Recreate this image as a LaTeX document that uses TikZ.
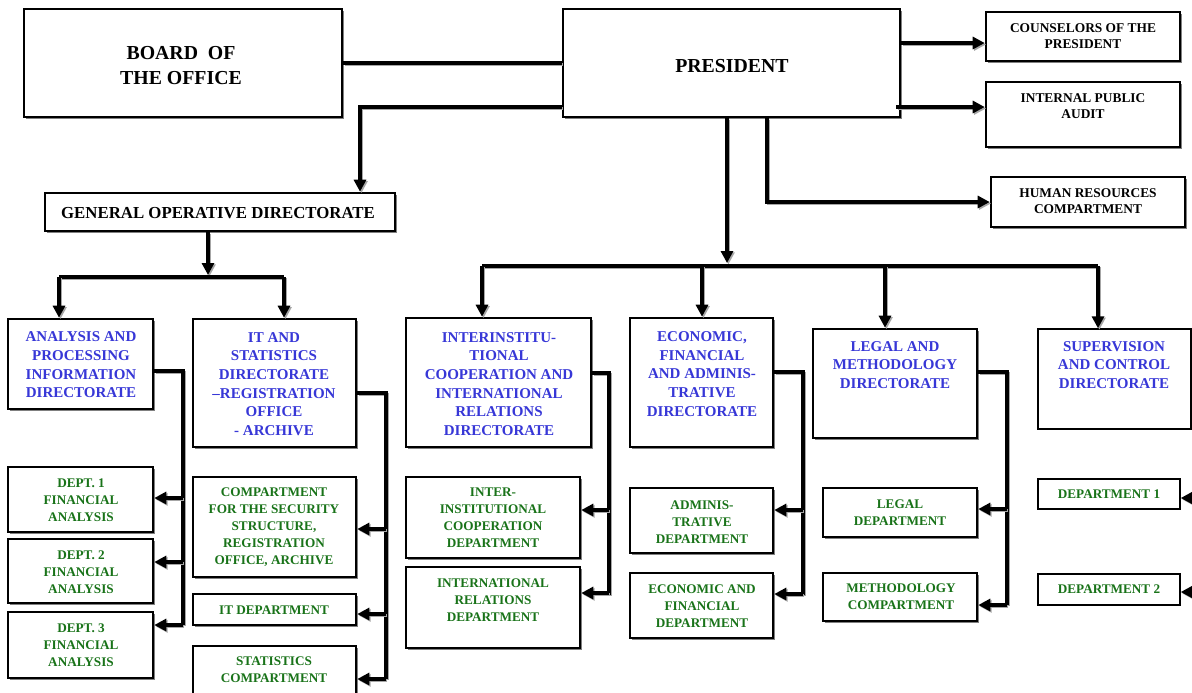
\documentclass[tikz,border=0pt]{standalone}
\usepackage{fontspec}
\setmainfont{Liberation Serif}
\usetikzlibrary{arrows.meta,shadows,calc}
\definecolor{dirblue}{RGB}{55,55,215}
\definecolor{depgreen}{RGB}{25,115,25}
\newcommand\mkbox[6][box]{\node[#1, minimum width={(#5-#3)*0.5pt}, minimum height={(#6-#4)*0.5pt}] (#2) at ({(#3+#5)/2},{(#4+#6)/2}) {};}
\newcommand\wirepath[2]{\draw[wireshadow,#1] #2; \draw[#1] #2;}
\tikzset{
 box/.style={draw, line width=1.3pt, fill=white, inner sep=0pt,
   drop shadow={shadow xshift=1pt, shadow yshift=-1pt, fill=black!50, opacity=1}},
 thinbox/.style={draw, line width=0.7pt, fill=white, inner sep=0pt},
 txt/.style={align=center, inner sep=0pt},
 bigtxt/.style={txt, font=\fontsize{9.9}{12.5}\selectfont\bfseries},
 godtxt/.style={txt, font=\fontsize{8.4}{10}\selectfont\bfseries},
 smalltxt/.style={txt, font=\fontsize{6.7}{8.3}\selectfont\bfseries},
 bluetxt/.style={txt, text=dirblue, font=\fontsize{7.5}{9.35}\selectfont\bfseries},
 greentxt/.style={txt, text=depgreen, font=\fontsize{6.6}{8.5}\selectfont\bfseries},
 wire/.style={line width=1.6pt},
 conn/.style={wire, -{Triangle[length=6pt,width=6pt]}},
 wireshadow/.style={draw=black!35, transform canvas={xshift=0.7pt,yshift=-0.7pt}},
}
\begin{document}
\begin{tikzpicture}[x=0.5pt, y=-0.5pt]
\clip (0,0) rectangle (1192,692);
\fill[white] (0,0) rectangle (1192,692);

% ---- boxes ----
\mkbox{board}{24}{9}{342}{117}
\mkbox{pres}{563}{9}{900}{117}
\mkbox{couns}{986}{12}{1180}{61}
\mkbox{audit}{986}{82}{1180}{147}
\mkbox{hr}{991}{177}{1185}{227}
\mkbox{god}{45}{193}{395}{231}
\mkbox{anal}{8}{319}{153}{409}
\mkbox{itd}{193}{319}{356}{447}
\mkbox{inter}{406}{318}{591}{447}
\mkbox{econ}{630}{318}{773}{447}
\mkbox{legal}{813}{329}{977}{438}
\mkbox[thinbox]{superv}{1038}{329}{1191}{429}
\mkbox{d1}{8}{467}{153}{532}
\mkbox{d2}{8}{539}{153}{603}
\mkbox{d3}{8}{612}{153}{678}
\mkbox{comp}{193}{477}{356}{577}
\mkbox{itdept}{193}{594}{356}{625}
\mkbox{stat}{193}{646}{356}{712}
\mkbox{iid}{406}{477}{580}{558}
\mkbox{ird}{406}{567}{580}{648}
\mkbox{adm}{630}{488}{773}{553}
\mkbox{ef}{630}{573}{773}{638}
\mkbox{ld}{823}{488}{977}{537}
\mkbox{mc}{823}{573}{977}{621}
\mkbox[thinbox]{dep1}{1038}{479}{1180}{509}
\mkbox[thinbox]{dep2}{1038}{574}{1180}{605}

% ---- texts ----
\node[bigtxt] (board-t) at (181,66) {BOARD~~OF\\THE OFFICE};
\node[bigtxt] (pres-t) at (732,66) {PRESIDENT};
\node[smalltxt] (couns-t) at (1083,36) {COUNSELORS OF THE\\PRESIDENT};
\node[smalltxt] (audit-t) at (1083,106) {INTERNAL PUBLIC\\AUDIT};
\node[smalltxt] (hr-t) at (1088,201) {HUMAN RESOURCES\\COMPARTMENT};
\node[godtxt] (god-t) at (218,213) {GENERAL OPERATIVE DIRECTORATE};
\node[bluetxt] (anal-t) at (81,365) {ANALYSIS AND\\PROCESSING\\INFORMATION\\DIRECTORATE};
\node[bluetxt] (itd-t) at (274,384) {IT AND\\STATISTICS\\DIRECTORATE\\--REGISTRATION\\OFFICE\\- ARCHIVE};
\node[bluetxt] (inter-t) at (499,384) {INTERINSTITU-\\TIONAL\\COOPERATION AND\\INTERNATIONAL\\RELATIONS\\DIRECTORATE};
\node[bluetxt] (econ-t) at (702,374) {ECONOMIC,\\FINANCIAL\\AND ADMINIS-\\TRATIVE\\DIRECTORATE};
\node[bluetxt] (legal-t) at (895,365) {LEGAL AND\\METHODOLOGY\\DIRECTORATE};
\node[bluetxt] (superv-t) at (1114,365) {SUPERVISION\\AND CONTROL\\DIRECTORATE};
\node[greentxt] (d1-t) at (81,500) {DEPT. 1\\FINANCIAL\\ANALYSIS};
\node[greentxt] (d2-t) at (81,572) {DEPT. 2\\FINANCIAL\\ANALYSIS};
\node[greentxt] (d3-t) at (81,645) {DEPT. 3\\FINANCIAL\\ANALYSIS};
\node[greentxt] (comp-t) at (274,527) {COMPARTMENT\\FOR THE SECURITY\\STRUCTURE,\\REGISTRATION\\OFFICE, ARCHIVE};
\node[greentxt] (itdept-t) at (274,610) {IT DEPARTMENT};
\node[greentxt] (stat-t) at (274,670) {STATISTICS\\COMPARTMENT};
\node[greentxt] (iid-t) at (493,518) {INTER-\\INSTITUTIONAL\\COOPERATION\\DEPARTMENT};
\node[greentxt] (ird-t) at (493,600) {INTERNATIONAL\\RELATIONS\\DEPARTMENT};
\node[greentxt] (adm-t) at (702,522) {ADMINIS-\\TRATIVE\\DEPARTMENT};
\node[greentxt] (ef-t) at (702,606) {ECONOMIC AND\\FINANCIAL\\DEPARTMENT};
\node[greentxt] (ld-t) at (900,513) {LEGAL\\DEPARTMENT};
\node[greentxt] (mc-t) at (901,597) {METHODOLOGY\\COMPARTMENT};
\node[greentxt] (dep1-t) at (1109,494) {DEPARTMENT 1};
\node[greentxt] (dep2-t) at (1109,589) {DEPARTMENT 2};

% ---- junction coordinates ----
\coordinate (bus) at (727,266);
\coordinate (busL) at (482,266);
\coordinate (b2) at (702,266);
\coordinate (b3) at (885,266);
\coordinate (busR) at (1098,266);
\coordinate (g) at (208,277);
\coordinate (gL) at (59,277);
\coordinate (gR) at (284,277);
\coordinate (sA) at (183,625);
\coordinate (sB) at (386,679);
\coordinate (sC) at (609,595);
\coordinate (sD) at (803,595);
\coordinate (sE) at (1007,605);
\coordinate (r0) at (1196,362);
\coordinate (r1) at (1196,498);
\coordinate (r2) at (1196,592);

% ---- top connectors ----
\wirepath{wire}{(board.east) -- (pres.west)}
\wirepath{conn}{(pres.west |- 0,107) -| (god.north -| 360,0)}
\wirepath{conn}{(pres.east |- 0,43) -- (couns.west |- 0,43)}
\wirepath{conn}{([xshift=-2.5pt]pres.east |- 0,107) -- (audit.west |- 0,107)}
\wirepath{conn}{(pres.south -| 767,0) |- (hr.west)}

% ---- main bus ----
\wirepath{conn}{(pres.south -| bus) -- ([yshift=1.5pt]bus)}
\wirepath{wire}{(busL) -- (busR)}
\wirepath{conn}{(busL) -- (inter.north -| busL)}
\wirepath{conn}{(b2) -- (econ.north -| b2)}
\wirepath{conn}{(b3) -- (legal.north -| b3)}
\wirepath{conn}{(busR) -- (superv.north -| busR)}

% ---- general operative ----
\wirepath{conn}{(god.south -| g) -- ([yshift=1pt]g)}
\wirepath{wire}{(gL) -- (gR)}
\wirepath{conn}{(gL) -- (anal.north -| gL)}
\wirepath{conn}{(gR) -- (itd.north -| gR)}

% ---- side spines ----
\wirepath{wire}{(anal.east |- 0,371) -| (sA)}
\wirepath{conn}{(sA |- 0,498) -- (d1.east |- 0,498)}
\wirepath{conn}{(sA |- 0,562) -- (d2.east |- 0,562)}
\wirepath{conn}{(sA) -- (d3.east |- sA)}

\wirepath{wire}{(itd.east |- 0,393) -| (sB)}
\wirepath{conn}{(sB |- 0,529) -- (comp.east |- 0,529)}
\wirepath{conn}{(sB |- 0,614) -- (itdept.east |- 0,614)}
\wirepath{conn}{(sB) -- (stat.east |- sB)}

\wirepath{wire}{(inter.east |- 0,373) -| (sC)}
\wirepath{conn}{(sC |- 0,510) -- (iid.east |- 0,510)}
\wirepath{conn}{(sC |- 0,593) -- (ird.east |- 0,593)}

\wirepath{wire}{(econ.east |- 0,372) -| (sD)}
\wirepath{conn}{(sD |- 0,510) -- (adm.east |- 0,510)}
\wirepath{conn}{(sD |- 0,594) -- (ef.east |- 0,594)}

\wirepath{wire}{(legal.east |- 0,372) -| (sE)}
\wirepath{conn}{(sE |- 0,509) -- (ld.east |- 0,509)}
\wirepath{conn}{(sE) -- (mc.east |- sE)}

% ---- right edge ----
\draw[line width=0.6pt] (superv.east |- r0) -- (r0);
\wirepath{conn}{(r1) -- (dep1.east |- r1)}
\wirepath{conn}{(r2) -- (dep2.east |- r2)}
\end{tikzpicture}
\end{document}
